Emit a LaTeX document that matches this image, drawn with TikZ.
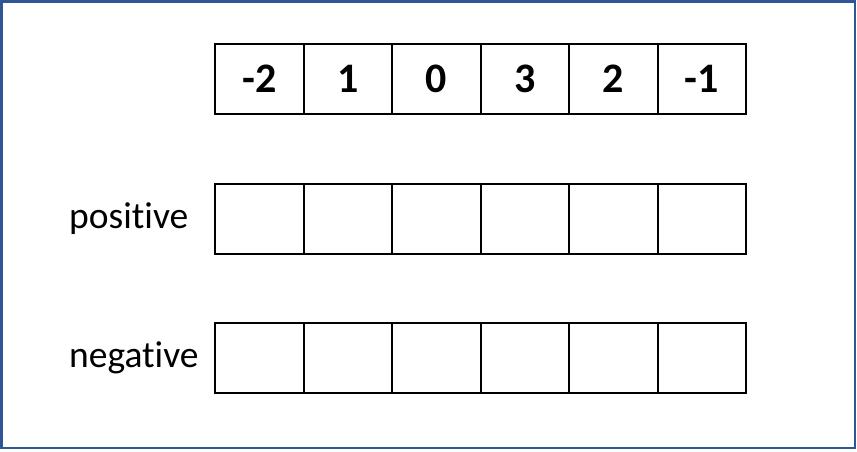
\documentclass[tikz,border=0pt]{standalone}
\usepackage{fontspec}
\setmainfont[Ligatures=NoCommon]{Carlito}
\usepackage{tikz}
\usetikzlibrary{positioning}
\definecolor{frameblue}{RGB}{47,85,151}
\tikzset{
  cell/.style={draw,line width=2pt,minimum width=88.5pt,minimum height=70pt,
    inner sep=0pt,outer sep=0pt,font=\fontsize{42}{46}\selectfont\bfseries},
  rowlabel/.style={anchor=west,inner sep=0pt,font=\fontsize{37.5}{41}\selectfont}
}
\begin{document}
\begin{tikzpicture}[x=1pt,y=-1pt]
    \useasboundingbox (0,0) rectangle (857,451);
    \draw[frameblue,line width=2.5pt] (1.5,1.5) rectangle (855,448);
    % input row
    \node[cell] (a1) at (259.25,79) {-2};
    \foreach \v [count=\i from 2, remember=\i as \j (initially 1)] in {1,0,3,2,-1}
      \node[cell,right=0pt of a\j] (a\i) {\v};
    % result rows
    \node[cell] (p1) at (259.25,219) {};
    \foreach \i [remember=\i as \j (initially 1)] in {2,...,6}
      \node[cell,right=0pt of p\j] (p\i) {};
    \node[cell] (n1) at (259.25,358) {};
    \foreach \i [remember=\i as \j (initially 1)] in {2,...,6}
      \node[cell,right=0pt of n\j] (n\i) {};
    \node[rowlabel] (pos) at (69,219) {positive};
    \node[rowlabel] (neg) at (69,358) {negative};
\end{tikzpicture}
\end{document}
